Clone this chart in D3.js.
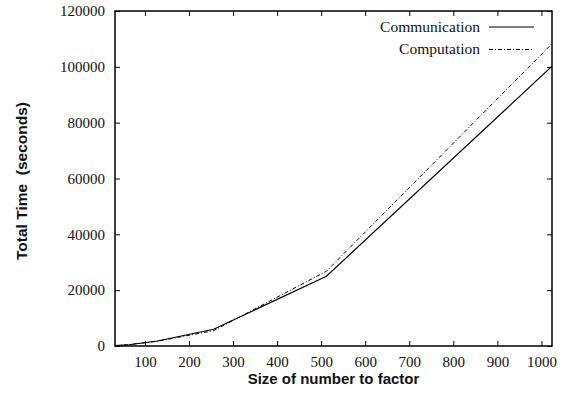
<!DOCTYPE html>
<html>
<head>
<meta charset="utf-8">
<script src="https://cdn.jsdelivr.net/npm/d3@7"></script>
<style>
  body { margin: 0; background: white; }
  svg { display: block; }
</style>
</head>
<body>
<div id="chart"></div>
<script>
// problem sizes (x) and measured totals (seconds)
var sizes = [32, 64, 128, 256, 512, 1024];
var communication = [100, 450, 1800, 6000, 25000, 100200];
var computation = [120, 500, 1700, 5500, 26800, 108300];

var xTicks = [100, 200, 300, 400, 500, 600, 700, 800, 900, 1000];
var yTicks = [0, 20000, 40000, 60000, 80000, 100000, 120000];

var seriesNames = ["Communication", "Computation"];

var width = 565, height = 398;
var plotLeft = 115, plotRight = 552, plotTop = 11, plotBottom = 346;
var tickLen = 5;

var svg = d3.select("#chart").append("svg")
  .attr("width", width)
  .attr("height", height)
  .style("background", "white");

var x = d3.scaleLinear().domain([32, 1024]).range([plotLeft, plotRight]);
var y = d3.scaleLinear().domain([0, 120000]).range([plotBottom, plotTop]);

var serif = "'Liberation Serif', 'Times New Roman', serif";
var sans = "'Liberation Sans', Arial, sans-serif";

// ticks, pointing inward on all four sides
var bottomAxis = d3.axisBottom(x).tickValues(xTicks).tickSize(-tickLen).tickFormat(d3.format("d")).tickPadding(10);
var topAxis = d3.axisTop(x).tickValues(xTicks).tickSize(-tickLen).tickFormat("");
var leftAxis = d3.axisLeft(y).tickValues(yTicks).tickSize(-tickLen).tickFormat(d3.format("d")).tickPadding(10);
var rightAxis = d3.axisRight(y).tickValues(yTicks).tickSize(-tickLen).tickFormat("");

function styleAxis(g) {
  g.select(".domain").remove();
  g.selectAll(".tick line").attr("stroke", "#000").attr("stroke-width", 1);
  g.selectAll(".tick text").attr("fill", "#111").style("font-family", serif).style("font-size", "15px");
}

svg.append("g").attr("transform", "translate(0," + plotBottom + ")").call(bottomAxis).call(styleAxis);
svg.append("g").attr("transform", "translate(0," + plotTop + ")").call(topAxis).call(styleAxis);
svg.append("g").attr("transform", "translate(" + plotLeft + ",0)").call(leftAxis).call(styleAxis);
svg.append("g").attr("transform", "translate(" + plotRight + ",0)").call(rightAxis).call(styleAxis);

svg.append("rect")
  .attr("x", plotLeft).attr("y", plotTop)
  .attr("width", plotRight - plotLeft).attr("height", plotBottom - plotTop)
  .attr("fill", "none").attr("stroke", "#000").attr("stroke-width", 1.5);

var line = d3.line()
  .x(function (d) { return x(d[0]); })
  .y(function (d) { return y(d[1]); });

var commData = sizes.map(function (s, i) { return [s, communication[i]]; });
var compData = sizes.map(function (s, i) { return [s, computation[i]]; });

svg.append("clipPath").attr("id", "plotclip")
  .append("rect").attr("x", plotLeft).attr("y", plotTop)
  .attr("width", plotRight - plotLeft).attr("height", plotBottom - plotTop);

svg.append("path").datum(compData)
  .attr("d", line).attr("fill", "none")
  .attr("stroke", "#000").attr("stroke-width", 1)
  .attr("stroke-dasharray", "4,2,1,2")
  .attr("clip-path", "url(#plotclip)");

svg.append("path").datum(commData)
  .attr("d", line).attr("fill", "none")
  .attr("stroke", "#000").attr("stroke-width", 1.2)
  .attr("clip-path", "url(#plotclip)");

// legend
var legend = svg.append("g").selectAll("g")
  .data(seriesNames).enter().append("g")
  .attr("transform", function (d, i) { return "translate(0," + (27 + i * 22.5) + ")"; });

legend.append("text")
  .attr("x", 480).attr("dy", "0.32em")
  .attr("text-anchor", "end")
  .style("font-family", serif).style("font-size", "15.5px").attr("fill", "#111")
  .text(function (d) { return d; });

legend.append("line")
  .attr("x1", 489).attr("x2", 534)
  .attr("stroke", "#000")
  .attr("stroke-width", function (d, i) { return i === 0 ? 1.2 : 1; })
  .attr("stroke-dasharray", function (d, i) { return i === 0 ? null : "4,2,1,2"; });

// axis titles
svg.append("text")
  .attr("x", (plotLeft + plotRight) / 2).attr("y", 384)
  .attr("text-anchor", "middle")
  .style("font-family", sans).style("font-size", "15px").style("font-weight", "bold")
  .attr("fill", "#111")
  .text("Size of number to factor");

svg.append("text")
  .attr("transform", "translate(27,181) rotate(-90)")
  .attr("text-anchor", "middle")
  .style("font-family", sans).style("font-size", "15.5px").style("font-weight", "bold")
  .style("white-space", "pre")
  .attr("fill", "#111")
  .text("Total Time  (seconds)");
</script>
</body>
</html>
